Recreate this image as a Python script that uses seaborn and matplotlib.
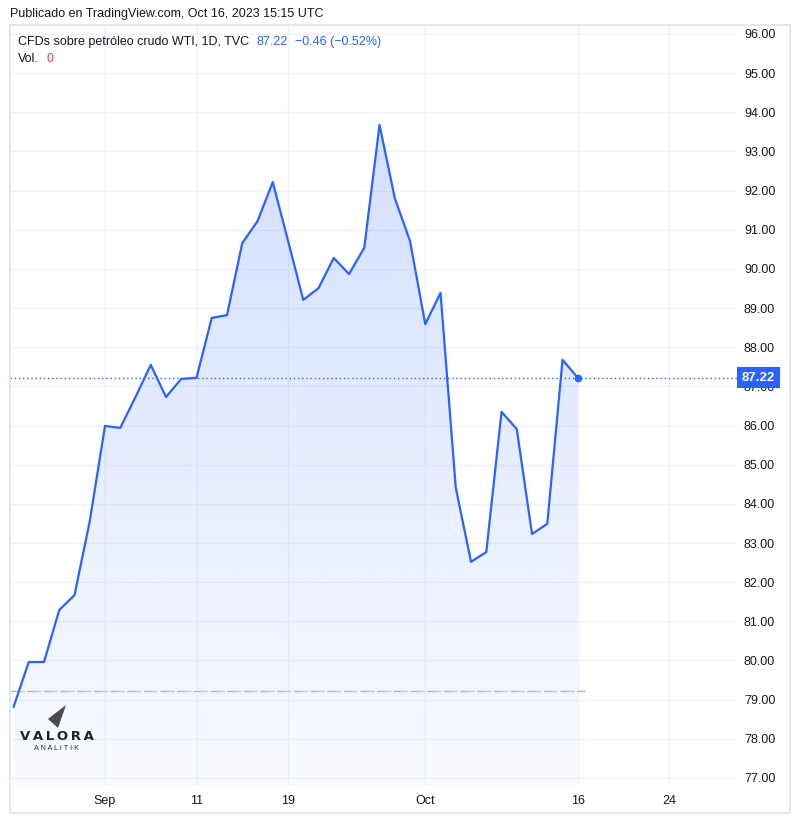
import numpy as np
import pandas as pd
import seaborn as sns
import matplotlib.pyplot as plt
from matplotlib.colors import LinearSegmentedColormap
from matplotlib.patches import Rectangle, Polygon
import matplotlib.transforms as mtransforms

# Datos diarios (cierre)
fechas = ["Aug 24", "Aug 25", "Aug 28", "Aug 29", "Aug 30", "Aug 31",
          "Sep 1", "Sep 4", "Sep 5", "Sep 6", "Sep 7", "Sep 8", "Sep 11",
          "Sep 12", "Sep 13", "Sep 14", "Sep 15", "Sep 18", "Sep 19", "Sep 20",
          "Sep 21", "Sep 22", "Sep 25", "Sep 26", "Sep 27", "Sep 28", "Sep 29",
          "Oct 2", "Oct 3", "Oct 4", "Oct 5", "Oct 6", "Oct 9", "Oct 10",
          "Oct 11", "Oct 12", "Oct 13", "Oct 16"]
precios = [78.81, 79.96, 79.96, 81.29, 81.67, 83.56,
           85.99, 85.94, 86.73, 87.55, 86.73, 87.19, 87.22,
           88.75, 88.82, 90.66, 91.22, 92.22, 90.72, 89.21,
           89.51, 90.28, 89.87, 90.54, 93.68, 91.81, 90.71,
           88.59, 89.39, 84.41, 82.52, 82.77, 86.35, 85.91,
           83.23, 83.49, 87.68, 87.22]

tick_pos = [6, 12, 18, 27, 37, 43]
tick_labels = ["Sep", "11", "19", "Oct", "16", "24"]
y_ticks = list(range(77, 97))
ultimo = 87.22
linea_base = 79.22

df = pd.DataFrame({"barra": range(len(precios)), "precio": precios})

sns.set_theme(style="white")
plt.rcParams["font.family"] = ["Liberation Sans", "DejaVu Sans"]

AZUL = "#2962ff"
TXT = "#131722"
GRID = "#f0f3fa"

fig = plt.figure(figsize=(8, 8.24), dpi=100)
ax = fig.add_axes([10 / 800, 1 - 785 / 824, 727 / 800, 759 / 824])

xmin, xmax = -0.23, 47.44
ymin, ymax = 76.82, 96.204
ax.set_xlim(xmin, xmax)
ax.set_ylim(ymin, ymax)

# cuadrícula
for y in y_ticks:
    ax.axhline(y, color=GRID, lw=1, zorder=0)
for x in tick_pos:
    ax.axvline(x, color=GRID, lw=1, zorder=0)

# relleno con degradado
cmap = LinearSegmentedColormap.from_list(
    "g", [(41 / 255, 98 / 255, 1, 0.03), (41 / 255, 98 / 255, 1, 0.21)])
grad = np.linspace(0, 1, 256).reshape(-1, 1)
im = ax.imshow(grad, cmap=cmap, origin="lower", aspect="auto",
               extent=[xmin, xmax, ymin, 94.5], zorder=1)
poly = ax.fill_between(df["barra"], df["precio"], ymin, color="none", lw=0)
im.set_clip_path(poly.get_paths()[0], transform=ax.transData)

# línea base discontinua (gris y azul alternados)
ax.plot([xmin, 37.5], [linea_base, linea_base], color="#b2b5be", lw=1,
        dashes=(6, 6), zorder=2)
ax.plot([xmin + 0.39, 37.5], [linea_base, linea_base], color="#b9c9ee", lw=1,
        dashes=(6, 6), zorder=2)

# línea de precio
sns.lineplot(data=df, x="barra", y="precio", color=AZUL, lw=1.6, ax=ax, zorder=4)
ax.plot(df["barra"].iloc[-1], precios[-1], "o", color=AZUL, ms=4.5, zorder=5)

# línea del último precio
ax.axhline(ultimo, color=AZUL, lw=1, ls=(0, (1, 2)), zorder=3)

ax.set_xlabel("")
ax.set_ylabel("")
ax.set_xticks(tick_pos)
ax.set_xticklabels(tick_labels)
ax.yaxis.tick_right()
ax.set_yticks(y_ticks)
ax.set_yticklabels([f"{v:.2f}" for v in y_ticks])
ax.tick_params(axis="x", length=0, pad=7, labelsize=9, labelcolor=TXT)
ax.tick_params(axis="y", length=0, pad=5, labelsize=9, labelcolor=TXT)
for lbl in ax.get_yticklabels():
    lbl.set_horizontalalignment("left")
for s in ax.spines.values():
    s.set_visible(False)

# etiqueta del último precio
trans = mtransforms.blended_transform_factory(ax.transAxes, ax.transData)
ax.text(1.007, ultimo, "87.22", transform=trans, ha="left", va="center",
        fontsize=9.5, fontweight="bold", color="white", zorder=6,
        bbox=dict(boxstyle="square,pad=0.35", fc=AZUL, ec="none"))

# marco exterior
fig.patches.append(Rectangle((10 / 800, 1 - 813 / 824), 780 / 800, 788 / 824,
                             transform=fig.transFigure, fill=False,
                             ec="#e0e3eb", lw=1.2))

# textos de cabecera
fig.text(10 / 800, 1 - 14 / 824, "Publicado en TradingView.com, Oct 16, 2023 15:15 UTC",
         fontsize=9, color=TXT, va="center")
t1 = fig.text(18 / 800, 1 - 42 / 824, "CFDs sobre petróleo crudo WTI, 1D, TVC",
              fontsize=9, color=TXT, va="center")
t2 = fig.text(0, 0, "87.22", fontsize=9, color=AZUL, va="center")
t3 = fig.text(0, 0, "\u22120.46 (\u22120.52%)", fontsize=9, color=AZUL, va="center")
t4 = fig.text(18 / 800, 1 - 59 / 824, "Vol.", fontsize=9, color=TXT, va="center")
t5 = fig.text(0, 0, "0", fontsize=9, color="#f23645", va="center")

# encadenar textos para que no se solapen
fig.canvas.draw()
r = fig.canvas.get_renderer()
inv = fig.transFigure.inverted()
def despues(prev, nuevo, gap_px):
    bb = prev.get_window_extent(r)
    x0 = inv.transform((bb.x1 + gap_px, 0))[0]
    nuevo.set_position((x0, prev.get_position()[1]))
despues(t1, t2, 7)
despues(t2, t3, 8)
despues(t4, t5, 8)

# logo
logo = [(48 / 800, 1 - 719 / 824), (66 / 800, 1 - 705 / 824), (58 / 800, 1 - 728 / 824)]
fig.patches.append(Polygon(logo, closed=True, transform=fig.transFigure,
                           fc="#4a4a4a", ec="none"))
fig.text(57 / 800, 1 - 737 / 824, "V\u2009A\u2009L\u2009O\u2009R\u2009A", fontsize=9.5,
         fontweight="bold", color="#222222", ha="center", va="center",
         family=["DejaVu Sans"])
fig.text(57 / 800, 1 - 748 / 824, "A N A L I T I K", fontsize=5.3,
         color="#333333", ha="center", va="center")

fig.savefig("out.png", dpi=100, facecolor="white")
